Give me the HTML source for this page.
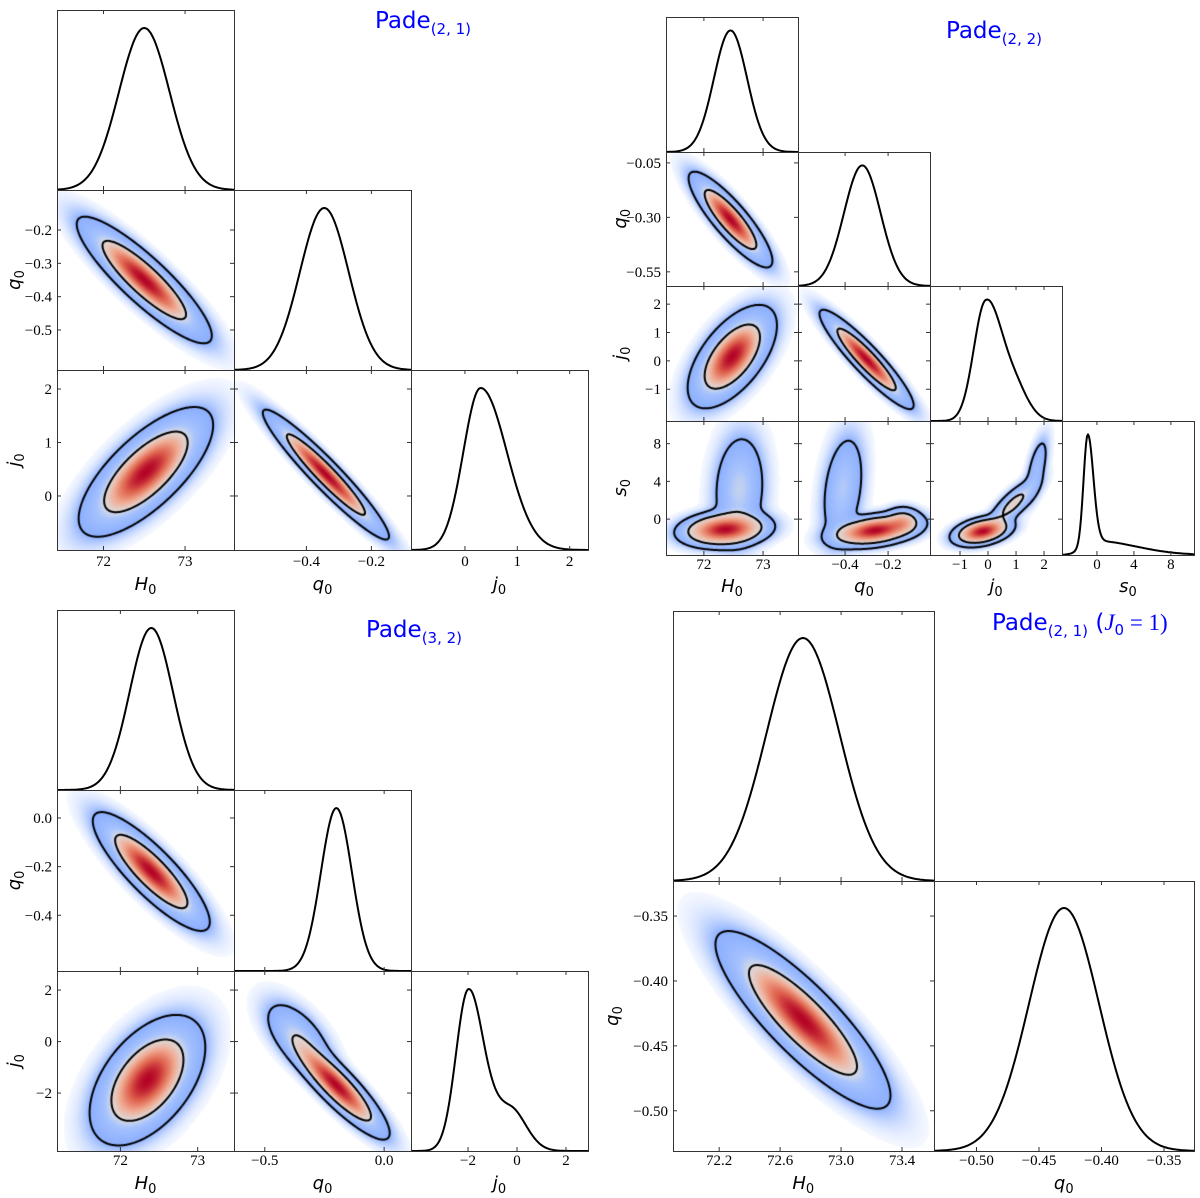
<!DOCTYPE html>
<html><head><meta charset="utf-8"><style>
html,body{margin:0;padding:0;background:#fff;}
#wrap{position:relative;width:1200px;height:1198px;overflow:hidden;background:#fff;}
canvas{position:absolute;}
svg{position:absolute;left:0;top:0;}
</style></head><body>
<div id="wrap">
<svg id="ov" width="1200" height="1198"></svg>
</div>
<script>
// ---------- Figure A: Pade(2,1) ----------
const FIG_A_VARS = ["H","q","j"];
const FIG_A_XDOM = [[71.43,73.60],[-0.623,-0.078],[-1.03,2.35]];
const FIG_A_YDOM = [[71.43,73.60],[-0.62,-0.08],[-1.01,2.355]];
const FIG_A_XTICKS = [[72,73],[-0.4,-0.2],[0,1,2]];
const FIG_A_XTICKLABELS = [["72","73"],["−0.4","−0.2"],["0","1","2"]];
const FIG_A_YTICKS = [[],[-0.2,-0.3,-0.4,-0.5],[2,1,0]];
const FIG_A_YTICKLABELS = [[],["−0.2","−0.3","−0.4","−0.5"],["2","1","0"]];
const FIG_A_MARG = [[[72.5,0.31,0.31,1]],[[-0.345,0.075,0.075,1]],[[0.3,0.33,0.5,1]]];
const FIG_A_PAIRS = [[0,1],[0,2],[1,2]];
const FIG_A_JOINT = [
  [[72.5,-0.35,0.34,0.078,-0.88,1]],
  [[72.52,0.45,0.34,0.5,0.72,1]],
  [[-0.34,0.4,0.08,0.5,-0.95,1]]
];
// ---------- Figure B: Pade(2,2) ----------
const FIG_B_VARS = ["H","q","j","s"];
const FIG_B_XDOM = [[71.36,73.59],[-0.619,-0.005],[-2.07,2.64],[-3.78,10.5]];
const FIG_B_YDOM = [[71.36,73.59],[-0.615,0.0],[-2.12,2.64],[-3.8,10.4]];
const FIG_B_XTICKS = [[72,73],[-0.4,-0.2],[-1,0,1,2],[0,4,8]];
const FIG_B_XTICKLABELS = [["72","73"],["−0.4","−0.2"],["−1","0","1","2"],["0","4","8"]];
const FIG_B_YTICKS = [[],[-0.05,-0.30,-0.55],[2,1,0,-1],[8,4,0]];
const FIG_B_YTICKLABELS = [[],["−0.05","−0.30","−0.55"],["2","1","0","−1"],["8","4","0"]];
const FIG_B_MARG = [[[72.45,0.28,0.28,1]],[[-0.32,0.085,0.085,1]],[[-0.1,0.42,0.55,1],[0.9,0.6,0.5,0.3]],[[-1.0,0.45,0.6,1],[-0.3,1.2,4.5,0.13]]];
const FIG_B_PAIRS = [[0,1],[0,2],[1,2],[0,3],[1,3],[2,3]];
const FIG_B_JOINT = [
  [[72.45,-0.31,0.29,0.09,-0.86,1]],
  [[72.48,0.15,0.31,0.75,0.6,1]],
  [[-0.3,0.05,0.09,0.72,-0.92,1]],
  [[72.35,-1.1,0.32,0.8,0.15,1],[72.6,3.2,0.22,3.0,0.1,0.35]],
  [[-0.26,-1.2,0.09,0.75,0.35,1],[-0.41,3.2,0.05,3.0,0.3,0.3],[-0.13,-0.2,0.04,0.7,0,0.12]],
  [[-0.2,-1.3,0.45,0.65,0.35,1],[0.9,1.6,0.45,1.3,0.8,0.3],[1.75,5.5,0.22,1.8,0.6,0.1]]
];
// ---------- Figure C: Pade(3,2) ----------
const FIG_C_VARS = ["H","q","j"];
const FIG_C_XDOM = [[71.18,73.47],[-0.629,0.1125],[-4.33,2.9]];
const FIG_C_YDOM = [[71.18,73.47],[-0.629,0.115],[-4.25,2.74]];
const FIG_C_XTICKS = [[72,73],[-0.5,0.0],[-2,0,2]];
const FIG_C_XTICKLABELS = [["72","73"],["−0.5","0.0"],["−2","0","2"]];
const FIG_C_YTICKS = [[],[0.0,-0.2,-0.4],[2,0,-2]];
const FIG_C_YTICKLABELS = [[],["0.0","−0.2","−0.4"],["2","0","−2"]];
const FIG_C_MARG = [[[72.4,0.28,0.28,1]],[[-0.2,0.065,0.065,1]],[[-2.0,0.5,0.6,1],[-0.3,0.9,0.65,0.28]]];
const FIG_C_PAIRS = [[0,1],[0,2],[1,2]];
const FIG_C_JOINT = [
  [[72.4,-0.22,0.31,0.1,-0.85,1]],
  [[72.35,-1.5,0.31,1.05,0.5,1]],
  [[-0.2,-1.7,0.09,0.85,-0.88,1],[-0.36,0.2,0.07,0.7,-0.6,0.22]]
];
// ---------- Figure D: Pade(2,1) J0=1 ----------
const FIG_D_VARS = ["H","q"];
const FIG_D_XDOM = [[71.897,73.61],[-0.534,-0.326]];
const FIG_D_YDOM = [[71.897,73.61],[-0.531,-0.323]];
const FIG_D_XTICKS = [[72.2,72.6,73.0,73.4],[-0.50,-0.45,-0.40,-0.35]];
const FIG_D_XTICKLABELS = [["72.2","72.6","73.0","73.4"],["−0.50","−0.45","−0.40","−0.35"]];
const FIG_D_YTICKS = [[],[-0.35,-0.40,-0.45,-0.50]];
const FIG_D_YTICKLABELS = [[],["−0.35","−0.40","−0.45","−0.50"]];
const FIG_D_MARG = [[[72.75,0.24,0.24,1]],[[-0.43,0.028,0.028,1]]];
const FIG_D_PAIRS = [[0,1]];
const FIG_D_JOINT = [
  [[72.75,-0.43,0.235,0.028,-0.85,1]]
];

const FIGS = [
 {id:"pade21",left:57,top:10,cw:177,ch:180,vars:FIG_A_VARS,xdom:FIG_A_XDOM,ydom:FIG_A_YDOM,xt:FIG_A_XTICKS,xtl:FIG_A_XTICKLABELS,yt:FIG_A_YTICKS,ytl:FIG_A_YTICKLABELS,marg:FIG_A_MARG,pairs:FIG_A_PAIRS,joint:FIG_A_JOINT,xlabY:590,ylabX:20,tickY:566,title:{x:375,y:28,main:"Pade",sub:"(2, 1)",extra:false}},
 {id:"pade22",left:666,top:17,cw:132,ch:134.5,vars:FIG_B_VARS,xdom:FIG_B_XDOM,ydom:FIG_B_YDOM,xt:FIG_B_XTICKS,xtl:FIG_B_XTICKLABELS,yt:FIG_B_YTICKS,ytl:FIG_B_YTICKLABELS,marg:FIG_B_MARG,pairs:FIG_B_PAIRS,joint:FIG_B_JOINT,xlabY:592,ylabX:626,tickY:569,title:{x:946,y:38,main:"Pade",sub:"(2, 2)",extra:false}},
 {id:"pade32",left:57,top:610,cw:177,ch:180.3,vars:FIG_C_VARS,xdom:FIG_C_XDOM,ydom:FIG_C_YDOM,xt:FIG_C_XTICKS,xtl:FIG_C_XTICKLABELS,yt:FIG_C_YTICKS,ytl:FIG_C_YTICKLABELS,marg:FIG_C_MARG,pairs:FIG_C_PAIRS,joint:FIG_C_JOINT,xlabY:1189,ylabX:20,tickY:1165,title:{x:366,y:637,main:"Pade",sub:"(3, 2)",extra:false}},
 {id:"pade21j",left:673,top:611,cw:260.5,ch:270,vars:FIG_D_VARS,xdom:FIG_D_XDOM,ydom:FIG_D_YDOM,xt:FIG_D_XTICKS,xtl:FIG_D_XTICKLABELS,yt:FIG_D_YTICKS,ytl:FIG_D_YTICKLABELS,marg:FIG_D_MARG,pairs:FIG_D_PAIRS,joint:FIG_D_JOINT,xlabY:1189,ylabX:618,tickY:1165,title:{x:992,y:630,main:"Pade",sub:"(2, 1)",extra:true}}
];

const NS="http://www.w3.org/2000/svg";
const ov=document.getElementById('ov');
const wrap=document.getElementById('wrap');
function mk(tag,attrs,parent){const e=document.createElementNS(NS,tag);for(const k in attrs)e.setAttribute(k,attrs[k]);(parent||ov).appendChild(e);return e;}

function mix1(comps,v){let s=0;for(const c of comps){const sd=v<c[0]?c[1]:c[2];const z=(v-c[0])/sd;s+=c[3]*Math.exp(-0.5*z*z);}return s;}
function mix2(comps,x,y){let s=0;for(const c of comps){const dx=(x-c[0])/c[2],dy=(y-c[1])/c[3],r=c[4];const q=(dx*dx-2*r*dx*dy+dy*dy)/(1-r*r);s+=c[5]*Math.exp(-0.5*q)/(c[2]*c[3]*Math.sqrt(1-r*r));}return s;}
function lerpC(stops,s){s=Math.max(0,Math.min(1,s));for(let i=1;i<stops.length;i++){if(s<=stops[i][0]){const a=stops[i-1],b=stops[i];const t=(s-a[0])/(b[0]-a[0]);return [a[1]+(b[1]-a[1])*t,a[2]+(b[2]-a[2])*t,a[3]+(b[3]-a[3])*t];}}const l=stops[stops.length-1];return [l[1],l[2],l[3]];}
const IN_STOPS=[[0,222,220,222],[0.3,240,170,145],[0.65,222,96,76],[1,180,4,38]];
const MID_STOPS=[[0,141,176,254],[0.6,168,196,253],[1,218,220,228]];

function draw2D(fig,c,r,comps,x0,y0,w,h){
  const cv=document.createElement('canvas');
  cv.width=w;cv.height=h;cv.style.left=x0+'px';cv.style.top=y0+'px';
  
  
  wrap.insertBefore(cv,ov);
  const ctx=cv.getContext('2d');
  const xd=fig.xdom[c],yd=fig.ydom[r];
  const v=new Float64Array(w*h);let mx=0,tot=0;
  for(let j=0;j<h;j++)for(let i=0;i<w;i++){const xv=xd[0]+(i+0.5)/w*(xd[1]-xd[0]);const yv=yd[1]-(j+0.5)/h*(yd[1]-yd[0]);const d=mix2(comps,xv,yv);v[j*w+i]=d;if(d>mx)mx=d;tot+=d;}
  const sorted=Array.from(v).sort((a,b)=>b-a);
  let cum=0,t1=0,t2=0;
  for(const d of sorted){cum+=d;if(!t1&&cum>=0.68*tot)t1=d;if(cum>=0.95*tot){t2=d;break;}}
  const L1=t1/mx,L2=t2/mx;
  const img=ctx.createImageData(w,h);
  for(let k=0;k<w*h;k++){const f=v[k]/mx;let col,a=255;
    if(f>=L1)col=lerpC(IN_STOPS,(f-L1)/(1-L1));
    else if(f>=L2)col=lerpC(MID_STOPS,(f-L2)/(L1-L2));
    else{col=[141,176,254];a=255*Math.pow(f/L2,0.75);if(f<L2*0.04)a=0;}
    img.data[k*4]=col[0];img.data[k*4+1]=col[1];img.data[k*4+2]=col[2];img.data[k*4+3]=a;}
  ctx.putImageData(img,0,0);
  ctx.strokeStyle='#000';ctx.lineWidth=2;ctx.lineCap='round';ctx.lineJoin='round';
  for(const t of [t1,t2]){
    ctx.beginPath();
    for(let j=0;j<h-1;j++)for(let i=0;i<w-1;i++){
      const a=v[j*w+i],b=v[j*w+i+1],cc=v[(j+1)*w+i+1],d=v[(j+1)*w+i];
      const p=[];
      if((a>=t)!=(b>=t))p.push([i+0.5+(t-a)/(b-a),j+0.5]);
      if((b>=t)!=(cc>=t))p.push([i+1.5,j+0.5+(t-b)/(cc-b)]);
      if((d>=t)!=(cc>=t))p.push([i+0.5+(t-d)/(cc-d),j+1.5]);
      if((a>=t)!=(d>=t))p.push([i+0.5,j+0.5+(t-a)/(d-a)]);
      if(p.length>=2){ctx.moveTo(p[0][0],p[0][1]);ctx.lineTo(p[1][0],p[1][1]);}
      if(p.length===4){ctx.moveTo(p[2][0],p[2][1]);ctx.lineTo(p[3][0],p[3][1]);}
    }
    ctx.stroke();
  }
}

function axisLabel(parent,x,y,sym,rot){
  const t=mk('text',{x:x,y:y,'font-family':'DejaVu Sans, sans-serif','font-size':18,'text-anchor':'middle',fill:'#000'},parent);
  if(rot)t.setAttribute('transform','rotate(-90 '+x+' '+y+')');
  const a=mk('tspan',{'font-style':'italic'},t);a.textContent=sym;
  const b=mk('tspan',{'font-size':13,dy:4},t);b.textContent='0';
  return t;
}

for(const fig of FIGS){
  const g=mk('g',{});
  
  
  const n=fig.vars.length;
  for(let r=0;r<n;r++)for(let c=0;c<=r;c++){
    const x0=Math.round(fig.left+c*fig.cw),x1=Math.round(fig.left+(c+1)*fig.cw);
    const y0=Math.round(fig.top+r*fig.ch),y1=Math.round(fig.top+(r+1)*fig.ch);
    const w=x1-x0,h=y1-y0;
    const xd=fig.xdom[c];
    const sx=v=>x0+(v-xd[0])/(xd[1]-xd[0])*w;
    const pg=mk('g',{},g);
    if(r===c){
      
      
      const comps=fig.marg[c];let mx=0;const vals=[];
      for(let i=0;i<=w;i++){const v=xd[0]+i/w*(xd[1]-xd[0]);const d=mix1(comps,v);vals.push(d);if(d>mx)mx=d;}
      let dstr='';
      for(let i=0;i<=w;i++){dstr+=(i?'L':'M')+(x0+i).toFixed(1)+','+(y1-0.9*h*vals[i]/mx).toFixed(1);}
      const pth=mk('path',{d:dstr,fill:'none',stroke:'#000','stroke-width':2,'stroke-linejoin':'round'},pg);
      
      
    } else {
      
      
      const idx=fig.pairs.findIndex(p=>p[0]===c&&p[1]===r);
      draw2D(fig,c,r,fig.joint[idx],x0,y0,w,h);
      const yd=fig.ydom[r];const sy=v=>y1-(v-yd[0])/(yd[1]-yd[0])*h;
      fig.yt[r].forEach((tv,k)=>{const py=sy(tv);
        mk('line',{x1:x0,x2:x0+4,y1:py,y2:py,stroke:'#333'},pg);
        mk('line',{x1:x1-4,x2:x1,y1:py,y2:py,stroke:'#333'},pg);
        if(c===0){const tl=mk('text',{x:x0-5,y:py+5,'font-family':'Liberation Serif, serif','font-size':15,'text-anchor':'end'},pg);
          tl.textContent=fig.ytl[r][k];
          
          }
      });
    }
    fig.xt[c].forEach((tv,k)=>{const px=sx(tv);
      mk('line',{x1:px,x2:px,y1:y1-4,y2:y1,stroke:'#333'},pg);
      mk('line',{x1:px,x2:px,y1:y0,y2:y0+4,stroke:'#333'},pg);
      if(r===n-1){const tl=mk('text',{x:px,y:fig.tickY,'font-family':'Liberation Serif, serif','font-size':15,'text-anchor':'middle'},pg);
        tl.textContent=fig.xtl[c][k];
        
        }
    });
    const bd=mk('rect',{x:x0+0.5,y:y0+0.5,width:w,height:h,fill:'none',stroke:'#333','stroke-width':1},pg);
    
    
  }
  for(let c=0;c<n;c++){
    const xl=axisLabel(g,fig.left+(c+0.5)*fig.cw,fig.xlabY,fig.vars[c],false);
    
    
  }
  for(let r=1;r<n;r++){
    const yl=axisLabel(g,fig.ylabX,fig.top+(r+0.5)*fig.ch,fig.vars[r],true);
    
    
  }
  const tt=mk('text',{x:fig.title.x,y:fig.title.y,'font-family':'DejaVu Sans, sans-serif','font-size':23,fill:'#0000ff'},g);
  
  
  const m=mk('tspan',{},tt);m.textContent=fig.title.main;
  const s=mk('tspan',{'font-size':15,dy:6},tt);s.textContent=fig.title.sub;
  if(fig.title.extra){
    const e1=mk('tspan',{dy:-6,'font-size':23},tt);e1.textContent=' (';
    const e2=mk('tspan',{'font-style':'italic','font-family':'Liberation Serif, serif'},tt);e2.textContent='J';
    const e3=mk('tspan',{'font-size':15,dy:5},tt);e3.textContent='0';
    const e4=mk('tspan',{dy:-5,'font-family':'Liberation Serif, serif'},tt);e4.textContent=' = 1)';
  }
}
</script>
</body></html>
